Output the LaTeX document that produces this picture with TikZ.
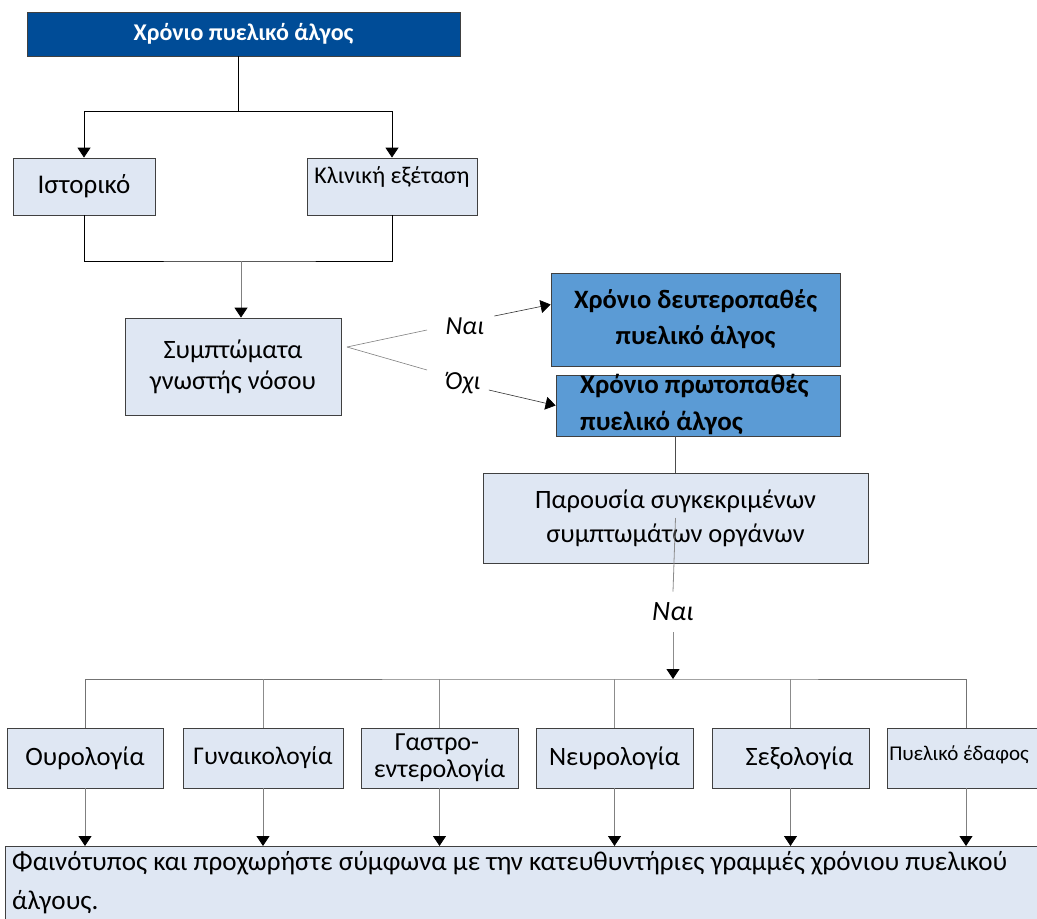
\documentclass[tikz,border=0pt]{standalone}
\usepackage{fontspec}
\setmainfont{Carlito}
\usepackage{xcolor}
\usepackage{tikz}
\usetikzlibrary{arrows.meta,positioning,calc}

\definecolor{navy}{RGB}{0,76,151}
\definecolor{midblue}{RGB}{91,155,213}
\definecolor{paleblue}{RGB}{223,231,243}

\begin{document}
\begin{tikzpicture}[
    x=1pt, y=-1pt,
    lightbox/.style={rectangle, draw=black!75, line width=0.8pt, fill=paleblue, inner sep=3pt, font=\fontsize{26.5}{31}\selectfont},
    headbox/.style={lightbox, fill=navy, text=white, font=\fontsize{24}{28}\selectfont\bfseries},
    bluebox/.style={lightbox, fill=midblue, font=\fontsize{26.5}{36}\selectfont\bfseries},
    smallbox/.style={lightbox, minimum width=157pt, minimum height=60pt, inner xsep=2pt},
    line/.style={draw, line width=0.8pt, -{Triangle[width=13pt,length=10pt,color=black]}},
    plain/.style={draw, line width=0.8pt},
    answer/.style={font=\fontsize{26}{28}\selectfont\itshape, inner sep=2pt}
]
\clip (0,0) rectangle (1037,919);
\fill[white] (0,0) rectangle (1037,919);

\node [headbox, minimum width=433pt, minimum height=44pt] (pain) at (243.5,34) {Χρόνιο πυελικό άλγος};
\node [lightbox, minimum width=142pt, minimum height=57pt, font=\fontsize{27}{31}\selectfont] (history) at (84,186.5) {Ιστορικό};
\node [lightbox, minimum width=170pt, minimum height=57pt, text depth=22pt, font=\fontsize{24}{31}\selectfont] (exam) at (392,186.5) {Κλινική εξέταση};
\node [lightbox, minimum width=216pt, minimum height=97pt, align=center] (symptoms) at (233,366.5) {Συμπτώματα\\γνωστής νόσου};

\node [answer] (yes1) at (465,326) {Ναι};
\node [answer] (no1) at (463,383) {Όχι};
\node [bluebox, minimum width=289pt, minimum height=93pt, align=center] (secondary) at (695.5,319.5) {Χρόνιο δευτεροπαθές\\πυελικό άλγος};
\node [bluebox, minimum width=284pt, minimum height=61pt] (primary) at (698,405.5) {};
\node [anchor=north west, align=left, inner sep=0pt, font=\fontsize{27}{37}\selectfont\bfseries] (primarytext) at (580,374) {Χρόνιο πρωτοπαθές\\πυελικό άλγος};

\node [lightbox, minimum width=385pt, minimum height=90pt, align=center, font=\fontsize{26.5}{34}\selectfont] (organs) at (675.5,518) {Παρουσία συγκεκριμένων\\συμπτωμάτων οργάνων};
\node [answer, font=\fontsize{28}{30}\selectfont\itshape, inner ysep=11pt] (yes2) at (673,612) {Ναι};

\node [smallbox, minimum width=156pt] (uro) at (85,758) {Ουρολογία};
\node [smallbox, minimum width=160pt, font=\fontsize{25.5}{31}\selectfont] (gyn) at (263,758) {Γυναικολογία};
\node [smallbox, align=left, font=\fontsize{26}{27}\selectfont] (gastro) at (439.5,758) {\hspace*{21pt}Γαστρο-\\εντερολογία};
\node [smallbox] (neuro) at (614.5,758) {Νευρολογία};
\node [smallbox] (sexo) at (790.5,758) {\hspace*{18pt}Σεξολογία};
\node [smallbox, minimum width=158pt, font=\fontsize{21}{24}\selectfont, text depth=10pt] (pelvic) at (966,758) {Πυελικό έδαφος\hspace*{14pt}};

\node [lightbox, anchor=north west, minimum width=1050pt, minimum height=90pt] (final) at (5,846) {};
\node [anchor=north west, align=left, inner sep=0pt, font=\fontsize{27.1}{39}\selectfont] (finaltext) at (12,851) {Φαινότυπος και προχωρήστε σύμφωνα με την κατευθυντήριες γραμμές χρόνιου πυελικού\\άλγους.};

% top split
\coordinate (split) at (238,111);
\path [plain] (split |- pain.south) -- (split);
\path [line] (split) -| (history);
\path [line] (split) -| (exam);

% merge into symptoms
\coordinate (merge) at (241,261);
\path [plain] (history) |- (merge) -| (exam);
\path [line, draw=black!50] (merge) -- (merge |- symptoms.north);

% yes / no
\coordinate (fork) at (347,347);
\coordinate (yesend) at (427,330);
\coordinate (noend) at (427,370);
\path [plain, draw=black!50, line width=0.6pt] (fork) -- (yesend);
\path [plain, draw=black!50, line width=0.6pt] (fork) -- (noend);
\path [line, line width=0.6pt, draw=black!80] ([shift={(8pt,10pt)}]yes1.east) -- ([yshift=15pt]secondary.west);
\path [line, line width=0.6pt, draw=black!80] ([shift={(6pt,-7pt)}]no1.east) -- (primary.west);

% organ symptoms
\path [plain, draw=black!70] (organs.north) -- (organs.north |- primary.south);
\path [plain, draw=black!45] (organs.center) -- (yes2.north);
\coordinate (bus) at (673,679);
\path [line, draw=black!45] (yes2.south) -- (bus);
\path [plain, draw=black!55] (uro.north) |- (bus) -| (pelvic.north);
\path [plain, draw=black!45] (gyn.north) -- (gyn.north |- bus);
\path [plain, draw=black!45] (gastro.north) -- (gastro.north |- bus);
\path [plain, draw=black!45] (neuro.north) -- (neuro.north |- bus);
\path [plain, draw=black!45] (sexo.north) -- (sexo.north |- bus);

% into phenotype box
\path [line, draw=black!50] (uro) -- (uro |- final.north);
\path [line, draw=black!50] (gyn) -- (gyn |- final.north);
\path [line, draw=black!50] (gastro) -- (gastro |- final.north);
\path [line, draw=black!50] (neuro) -- (neuro |- final.north);
\path [line, draw=black!50] (sexo) -- (sexo |- final.north);
\path [line, draw=black!50] (pelvic) -- (pelvic |- final.north);

\end{tikzpicture}
\end{document}
